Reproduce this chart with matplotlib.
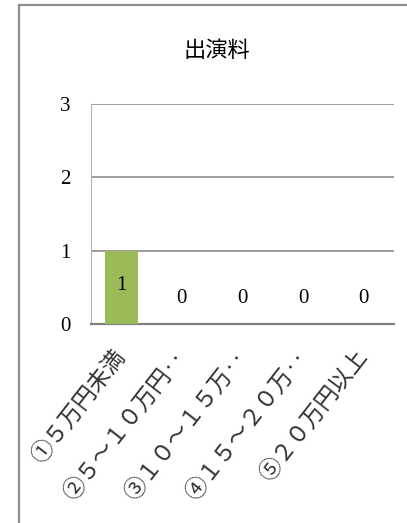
import matplotlib.pyplot as plt
from matplotlib.patches import Rectangle

plt.rcParams['font.family'] = ['Liberation Serif', 'Noto Sans CJK JP', 'DejaVu Sans']

# data
title = "出演料"
categories = ["①５万円未満", "②５～１０万円‥", "③１０～１５万‥", "④１５～２０万‥", "⑤２０万円以上"]
values = [1, 0, 0, 0, 0]
y_ticks = [0, 1, 2, 3]

W, H = 407, 523
fig = plt.figure(figsize=(W / 100, H / 100), dpi=100)

# chart frame (right and bottom edges fall outside the picture)
fig.patches.append(Rectangle((19 / W, -0.05), 1.0, 1 - 5 / H + 0.05,
                             transform=fig.transFigure, fill=False,
                             edgecolor="#8c8c8c", linewidth=1.6))

ax = fig.add_axes([91 / W, 1 - 324 / H, (394 - 91) / W, (324 - 104) / H])

x = range(len(categories))
ax.bar(x, values, width=0.55, color="#9bbb59", zorder=3)
ax.set_xlim(-0.5, len(categories) - 0.5)
ax.set_ylim(0, 3)

ax.set_yticks(y_ticks)
ax.set_yticklabels([str(t) for t in y_ticks], fontsize=15)
ax.tick_params(axis="y", length=0, pad=15)
ax.set_xticks(list(x))
ax.set_xticklabels(categories, rotation=52, ha="right", va="center",
                   rotation_mode="anchor", fontsize=16.5, color="#333333")
ax.tick_params(axis="x", length=0, pad=21)

ax.grid(axis="y", color="#8c8c8c", linewidth=1.2, zorder=0)
ax.set_axisbelow(True)
for side in ["top", "right"]:
    ax.spines[side].set_visible(False)
ax.spines["left"].set_color("#b0b0b0")
ax.spines["bottom"].set_color("#808080")
ax.spines["bottom"].set_linewidth(1.6)

for i, v in enumerate(values):
    ax.text(i, 0.53 if v > 0 else 0.35, str(v), ha="center", va="center",
            fontsize=15, zorder=4)

fig.text(217 / W, 1 - 52 / H, title, ha="center", va="center", fontsize=16)

fig.savefig("out.png", dpi=100)
